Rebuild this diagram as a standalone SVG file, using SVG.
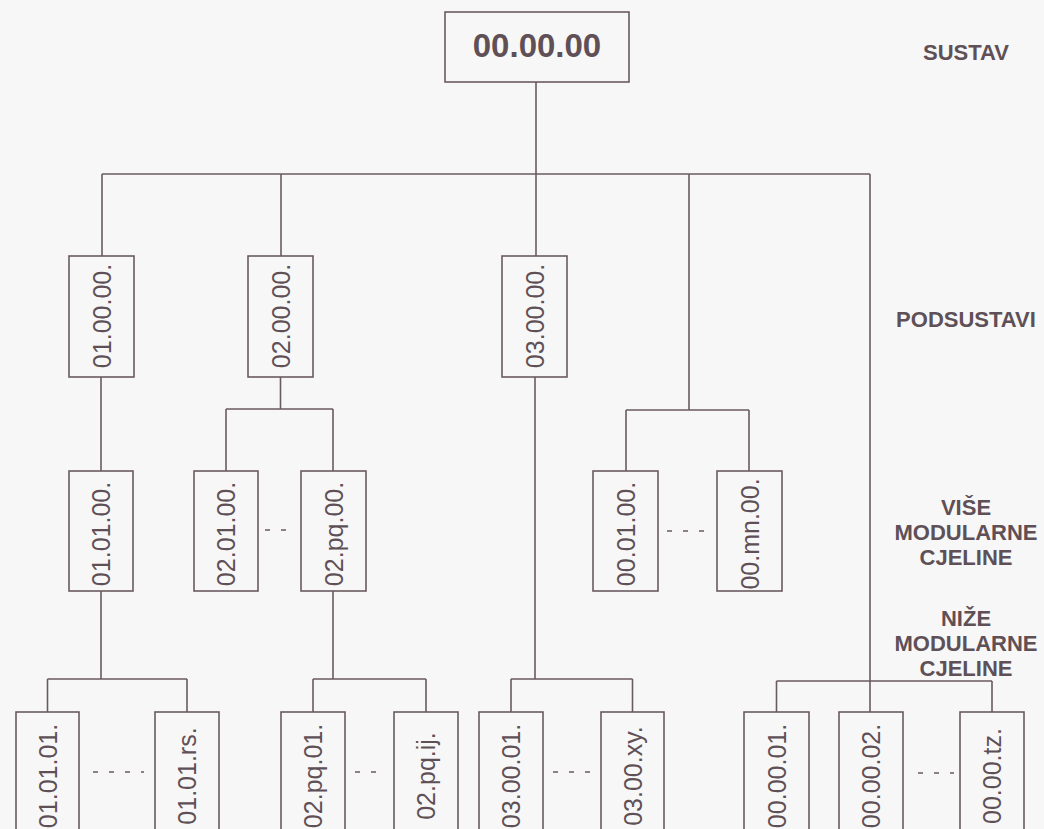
<svg xmlns="http://www.w3.org/2000/svg" width="1044" height="829" viewBox="0 0 1044 829">
<style>
.bg{fill:#f8f7f7}
.box{fill:none;stroke:#6a5b61;stroke-width:1.6}
.ln{fill:none;stroke:#6a5b61;stroke-width:1.6}
.dots{fill:none;stroke:#6a5b61;stroke-width:1.4;stroke-dasharray:5 11}
.code{font-family:"Liberation Sans",Arial,sans-serif;font-size:25px;fill:#5e5056;text-anchor:middle}
.top{font-family:"Liberation Sans",Arial,sans-serif;font-size:33px;font-weight:bold;fill:#5e5056;text-anchor:middle}
.lab{font-family:"Liberation Sans",Arial,sans-serif;font-size:22px;font-weight:bold;fill:#5e5056;text-anchor:middle}
</style>
<rect class="bg" x="0" y="0" width="1044" height="829"/>
<g id="connectors">
<path class="ln" d="M536 82V256"/>
<path class="ln" d="M102 174H870"/>
<path class="ln" d="M102 174V256"/>
<path class="ln" d="M281 174V256"/>
<path class="ln" d="M689 174V410M626 410H749M626 410V471M749 410V471"/>
<path class="ln" d="M870 174V712"/>
<path class="ln" d="M101 377V471"/>
<path class="ln" d="M280.5 377V409M226 409H333M226 409V471M333 409V471"/>
<path class="ln" d="M101 591V679M47.5 679H187M47.5 679V712M187 679V712"/>
<path class="ln" d="M333 591V679M313 679H426M313 679V712M426 679V712"/>
<path class="ln" d="M535 377V679M511 679H632.5M511 679V712M632.5 679V712"/>
<path class="ln" d="M776.5 681H992M776.5 681V712M992 681V712"/>
<path class="dots" d="M265 530H295M667 531H709M93 772H144M355 772H387M553 772H592M918 773H954"/>
</g>
<g id="n-000000"><rect class="box" x="445" y="12" width="184" height="70"/><text class="top" x="537" y="57">00.00.00</text></g>
<g id="n-010000"><rect class="box" x="69" y="256" width="65" height="121"/><text class="code" transform="translate(101.5 316) rotate(-90)" y="9">01.00.00.</text></g>
<g id="n-020000"><rect class="box" x="248" y="256" width="65" height="121"/><text class="code" transform="translate(280.5 316) rotate(-90)" y="9">02.00.00.</text></g>
<g id="n-030000"><rect class="box" x="502" y="256" width="65" height="121"/><text class="code" transform="translate(534.5 316) rotate(-90)" y="9">03.00.00.</text></g>
<g id="n-010100"><rect class="box" x="69" y="471" width="64" height="120"/><text class="code" transform="translate(101 534) rotate(-90)" y="9">01.01.00.</text></g>
<g id="n-020100"><rect class="box" x="194" y="471" width="64" height="120"/><text class="code" transform="translate(226 534) rotate(-90)" y="9">02.01.00.</text></g>
<g id="n-02pq00"><rect class="box" x="301" y="471" width="65" height="120"/><text class="code" transform="translate(333.5 534) rotate(-90)" y="9">02.pq.00.</text></g>
<g id="n-000100"><rect class="box" x="593" y="471" width="65" height="120"/><text class="code" transform="translate(625.5 534) rotate(-90)" y="9">00.01.00.</text></g>
<g id="n-00mn00"><rect class="box" x="717" y="471" width="65" height="120"/><text class="code" transform="translate(749.5 534) rotate(-90)" y="9">00.mn.00.</text></g>
<g id="n-010101"><rect class="box" x="16" y="712" width="63" height="124"/><text class="code" transform="translate(47.5 776) rotate(-90)" y="9">01.01.01.</text></g>
<g id="n-0101rs"><rect class="box" x="155" y="712" width="64" height="124"/><text class="code" transform="translate(187 776) rotate(-90)" y="9">01.01.rs.</text></g>
<g id="n-02pq01"><rect class="box" x="281" y="712" width="64" height="124"/><text class="code" transform="translate(313 776) rotate(-90)" y="9">02.pq.01.</text></g>
<g id="n-02pqij"><rect class="box" x="394" y="712" width="64" height="124"/><text class="code" transform="translate(426 776) rotate(-90)" y="9">02.pq.ij.</text></g>
<g id="n-030001"><rect class="box" x="479" y="712" width="64" height="124"/><text class="code" transform="translate(511 776) rotate(-90)" y="9">03.00.01.</text></g>
<g id="n-0300xy"><rect class="box" x="601" y="712" width="63" height="124"/><text class="code" transform="translate(632.5 776) rotate(-90)" y="9">03.00.xy.</text></g>
<g id="n-000001"><rect class="box" x="744" y="712" width="65" height="124"/><text class="code" transform="translate(776.5 776) rotate(-90)" y="9">00.00.01.</text></g>
<g id="n-000002"><rect class="box" x="839" y="712" width="64" height="124"/><text class="code" transform="translate(871 776) rotate(-90)" y="9">00.00.02.</text></g>
<g id="n-0000tz"><rect class="box" x="960" y="712" width="64" height="124"/><text class="code" transform="translate(992 776) rotate(-90)" y="9">00.00.tz.</text></g>
<g id="labels">
<text class="lab" x="966" y="60">SUSTAV</text>
<text class="lab" x="966" y="327">PODSUSTAVI</text>
<text class="lab" x="966" y="515">VIŠE</text>
<text class="lab" x="966" y="540">MODULARNE</text>
<text class="lab" x="966" y="565">CJELINE</text>
<text class="lab" x="966" y="626">NIŽE</text>
<text class="lab" x="966" y="651">MODULARNE</text>
<text class="lab" x="966" y="676">CJELINE</text>
</g>
</svg>
